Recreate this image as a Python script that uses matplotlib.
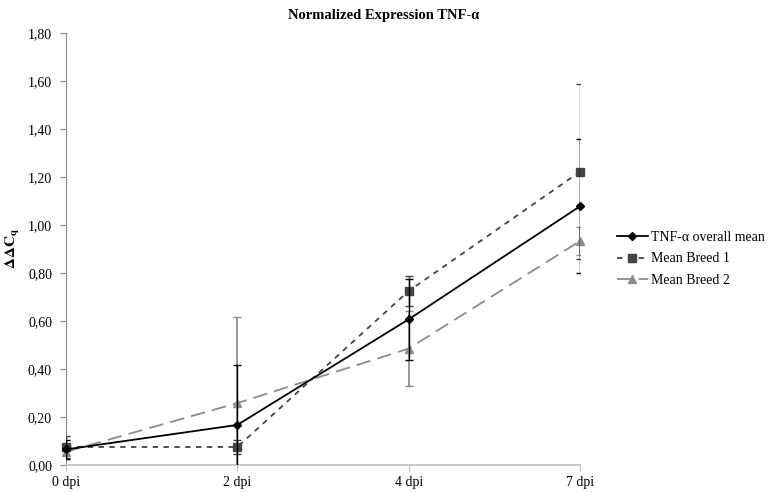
import matplotlib
matplotlib.use("Agg")
import matplotlib.pyplot as plt
from matplotlib.lines import Line2D
import numpy as np

categories = ["0 dpi", "2 dpi", "4 dpi", "7 dpi"]
overall = [0.065, 0.167, 0.607, 1.078]
overall_err = [0.04, 0.25, 0.17, 0.28]
breed1 = [0.075, 0.075, 0.725, 1.222]
breed1_err = [0.045, 0.03, 0.063, 0.365]
breed2 = [0.055, 0.258, 0.485, 0.933]
breed2_err = [0.03, 0.36, 0.155, 0.06]
yticks = [0.0, 0.2, 0.4, 0.6, 0.8, 1.0, 1.2, 1.4, 1.6, 1.8]

plt.rcParams['font.family'] = ['Liberation Serif', 'DejaVu Serif']
plt.rcParams['mathtext.fontset'] = 'stix'

fig = plt.figure(figsize=(7.68, 4.93), dpi=100)
ax = fig.add_axes([66/768, 1-465/493, (580-66)/768, (465-33)/493])
x = np.arange(len(categories))

series = [
    (breed2, breed2_err, '#8c8c8c', (0, (8, 4)), '^', 6, 'Mean Breed 2', 1.3),
    (breed1, breed1_err, '#444444', (0, (3, 3)), 's', 6, 'Mean Breed 1', 1.0),
    (overall, overall_err, 'black', '-', 'D', 4.5, 'TNF-α overall mean', 1.0),
]
handles = {}
for z, (vals, err, col, ls, mk, ms, lab, elw) in enumerate(series):
    ax.errorbar(x, vals, yerr=err, fmt='none', ecolor=col, elinewidth=elw,
                capsize=3, zorder=2 + z)
    ax.plot(x, vals, color=col, linestyle=ls, lw=1.3, marker=mk, ms=ms,
            clip_on=False, zorder=3 + z)
    handles[lab] = Line2D([], [], color=col, linestyle=ls, lw=1.3, marker=mk, ms=ms)

ax.set_xlim(0, len(categories)-1)
ax.set_ylim(0, 1.8)
ax.set_xticks(x)
ax.set_xticklabels(categories, fontsize=10)
ax.set_yticks(yticks)
ax.set_yticklabels([f"{v:.2f}".replace('.', ',') for v in yticks], fontsize=10)
for s in ['top', 'right']:
    ax.spines[s].set_visible(False)
ax.spines['left'].set_color('#8c8c8c')
ax.spines['bottom'].set_color('#bfbfbf')
ax.spines['bottom'].set_linewidth(1.2)
ax.tick_params(axis='y', length=4, color='#8c8c8c', pad=6)
ax.tick_params(axis='x', length=4, color='#bfbfbf', pad=4)

fig.text(0.5, 1 - 15/493, 'Normalized Expression TNF-α', fontsize=10.5,
         fontweight='bold', ha='center', va='center')
ax.set_ylabel(r'$\mathbf{\Delta\Delta C_q}$', fontsize=11, labelpad=4)

order = ['TNF-α overall mean', 'Mean Breed 1', 'Mean Breed 2']
fig.legend([handles[k] for k in order], order,
           loc='center left', bbox_to_anchor=(604/768, 1-259/493), frameon=False,
           fontsize=10, handlelength=2.3, handletextpad=0.2, labelspacing=0.6)

fig.savefig('out.png', dpi=100)
